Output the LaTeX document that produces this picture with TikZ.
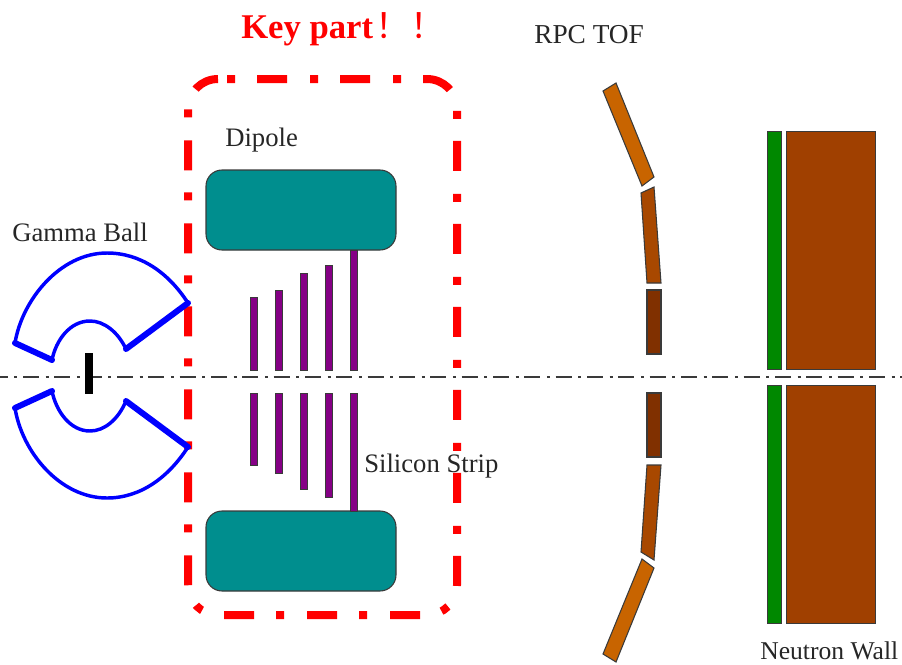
\documentclass[tikz,border=0pt]{standalone}
\usepackage{fontspec}
\setmainfont{Liberation Serif}
\newfontfamily\cjk{Noto Sans CJK SC}
\definecolor{dipolecol}{HTML}{008E8E}
\definecolor{stripcol}{HTML}{850085}
\definecolor{tofa}{HTML}{C86400}
\definecolor{tofb}{HTML}{A84800}
\definecolor{tofc}{HTML}{803000}
\definecolor{wallgreen}{HTML}{008800}
\definecolor{wallbrown}{HTML}{A04000}
\definecolor{edgecol}{HTML}{3A3A3A}
\tikzset{
  keybox/.style={red,line width=6pt,dash pattern=on 22.5pt off 17.25pt on 6pt off 16.5pt,dash phase=33pt},
  axisline/.style={edgecol,line width=1.8pt,dash pattern=on 12pt off 4.9pt on 2.2pt off 4.4pt,dash phase=6.2pt},
  dipole/.style={fill=dipolecol,draw=edgecol,line width=.8pt,rounded corners=12pt},
  strip/.style={fill=stripcol,draw=edgecol,line width=.6pt},
  tof/.style={draw=edgecol,line width=.8pt},
  wall/.style={draw=edgecol,line width=.7pt},
  gammaline/.style={blue,line width=2.6pt,line join=round},
  gammathick/.style={blue,line width=4.5pt,line cap=round},
  label/.style={anchor=base west,inner sep=0pt,text=black!85,font=\fontsize{20}{24}\selectfont},
}
\begin{document}
\begin{tikzpicture}[x=.75pt,y=-.75pt]
        \useasboundingbox (0,0) rectangle (902,664);
        \draw[axisline] (0,377) -- (902,377);
        \draw[dipole] (206,170) rectangle (396,250);
        \draw[dipole] (206,511) rectangle (396,591);
        \draw[strip] (250.5,297) rectangle (257.5,370);
        \draw[strip] (275.5,290) rectangle (282.5,370);
        \draw[strip] (300.5,273) rectangle (307.5,370);
        \draw[strip] (325.5,265) rectangle (332.5,370);
        \draw[strip] (350.5,250) rectangle (357.5,370);
        \draw[strip] (250.5,393) rectangle (257.5,465);
        \draw[strip] (275.5,393) rectangle (282.5,473);
        \draw[strip] (300.5,393) rectangle (307.5,489);
        \draw[strip] (325.5,393) rectangle (332.5,497);
        \draw[strip] (350.5,393) rectangle (357.5,511);
        \draw[keybox] (218,79) -- (427,79) arc[start angle=-90,end angle=0,radius=30] -- (457,585) arc[start angle=0,end angle=90,radius=30] -- (218,615) arc[start angle=90,end angle=180,radius=30] -- (188,109) arc[start angle=180,end angle=270,radius=30];
        \draw[gammaline] (15,343) .. controls (22,300) and (60,253) .. (107,253) .. controls (140,253) and (168,272) .. (188,303);
        \draw[gammaline] (126,349) .. controls (118,332) and (104,321) .. (90,321) .. controls (70,321) and (56,340) .. (52,360);
        \draw[gammathick] (15,343) -- (52,360);
        \draw[gammathick] (188,303) -- (126,349);
        \draw[gammaline] (15,408) .. controls (22,452) and (60,498) .. (107,498) .. controls (140,498) and (168,478) .. (188,447);
        \draw[gammaline] (126,401) .. controls (118,420) and (104,431) .. (90,431) .. controls (70,431) and (56,411) .. (52,391);
        \draw[gammathick] (15,408) -- (52,391);
        \draw[gammathick] (188,447) -- (126,401);
        \draw[black,line width=5.5pt] (89,353) -- (89,394);
        \draw[tof,fill=tofa] (603,91) -- (616,83) -- (654,177) -- (642,186) -- cycle;
        \draw[tof,fill=tofb] (641,193) -- (654,187) -- (661,283) -- (647,283) -- cycle;
        \draw[tof,fill=tofc] (647,290) rectangle (661,354);
        \draw[tof,fill=tofc] (647,393) rectangle (661,457);
        \draw[tof,fill=tofb] (647,465) -- (661,465) -- (654,560) -- (641,552) -- cycle;
        \draw[tof,fill=tofa] (642,559) -- (654,568) -- (616,662) -- (603,654) -- cycle;
        \draw[wall,fill=wallgreen] (767,131) rectangle (781,369);
        \draw[wall,fill=wallbrown] (786,131) rectangle (875,369);
        \draw[wall,fill=wallgreen] (767,385) rectangle (781,623);
        \draw[wall,fill=wallbrown] (786,385) rectangle (875,623);
        \node[anchor=base west,inner sep=0pt,text=red,font=\fontsize{26}{30}\selectfont\bfseries] (keypart) at (241,38) {Key part\hspace{2pt}{\cjk\mdseries ！！}};
        \node[label] (gammaball) at (12,241) {Gamma Ball};
        \node[label] (dipolelabel) at (225,146) {Dipole};
        \node[label,font=\fontsize{20.5}{24}\selectfont] (rpctof) at (534,43) {RPC TOF};
        \node[label] (silicon) at (364,472) {Silicon Strip};
        \node[label,font=\fontsize{19.2}{24}\selectfont] (neutronwall) at (760,659) {Neutron Wall};
\end{tikzpicture}
\end{document}
